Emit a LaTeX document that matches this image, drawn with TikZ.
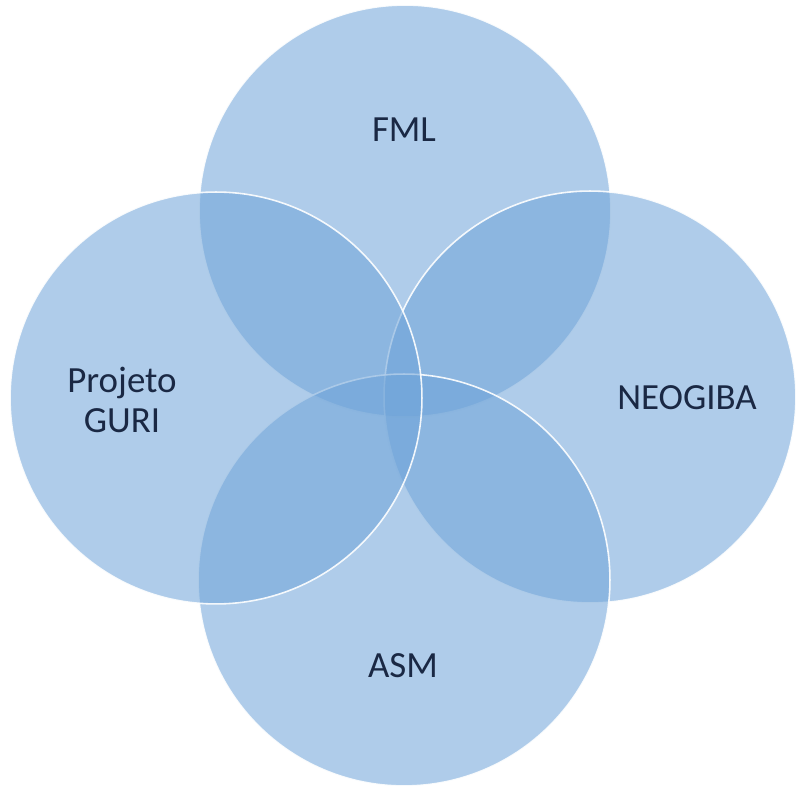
\documentclass[tikz,border=0pt]{standalone}
\usepackage{fontspec}
\setmainfont{Carlito}
\definecolor{ringblue}{RGB}{110,163,216}
\definecolor{inkblue}{RGB}{26,40,68}
\tikzset{
  ring/.style = {circle, minimum size=8.24cm, inner sep=0pt, outer sep=0pt,
    fill=ringblue, fill opacity=0.55, draw=white, draw opacity=0.9,
    line width=0.9pt},
  tag/.style = {text=inkblue, align=center, inner sep=0pt,
    font=\fontsize{21}{23}\selectfont}
}
\begin{document}
\begin{tikzpicture}[x=0.02cm, y=-0.02cm]
  \useasboundingbox (0,0) rectangle (798,786);
  % the four overlapping circles
  \node[ring] (fml)    at (405,211) {};
  \node[ring] (neo)    at (590,397) {};
  \node[ring] (asm)    at (404,580) {};
  \node[ring] (guri)   at (216,398) {};
  % labels
  \node[tag, anchor=base] (fmltxt) at (404,142) {FML};
  \node[tag, anchor=base] (neotxt) at (687,410) {NEOGIBA};
  \node[tag, anchor=base] (asmtxt) at (403,678) {ASM};
  \node[tag] (guritxt) at (122,400) {Projeto\\GURI};
\end{tikzpicture}
\end{document}
